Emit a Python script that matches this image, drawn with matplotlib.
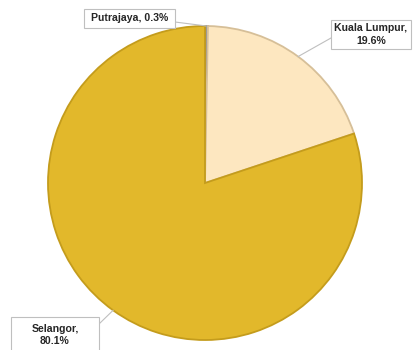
import matplotlib.pyplot as plt
from matplotlib.patches import Rectangle
import numpy as np

# share of population by area
regions = ['Putrajaya', 'Kuala Lumpur', 'Selangor']
shares = [0.3, 19.6, 80.1]
labels = ['Putrajaya, 0.3%', 'Kuala Lumpur,\n19.6%', 'Selangor,\n80.1%']
colors = ['#9a9a9a', '#fde7c0', '#e2b82b']
edges = ['#7a7a7a', '#d6bf98', '#c49c1c']

# pie centre and radius in pixels, used to place the callout boxes
CX, CY, R = 205, 183, 157


def px(x, y):
    return (x - CX) / R, (CY - y) / R


# callout boxes (left, top, right, bottom) and leader start, in pixels
boxes = [(84, 9, 175, 28), (331, 20, 411, 49), (11, 317, 99, 358)]
anchors = [(175, 22), (331, 38), (99, 324)]

fig = plt.figure(figsize=(4.14, 3.5), dpi=100)
ax = fig.add_axes([0, 0, 1, 1])

wedges, _ = ax.pie(shares, colors=colors, startangle=90, counterclock=False,
                   radius=1.0, wedgeprops=dict(linewidth=1.3))
for w, ec in zip(wedges, edges):
    w.set_edgecolor(ec)

for w, txt, box, anc in zip(wedges, labels, boxes, anchors):
    ang = np.deg2rad((w.theta1 + w.theta2) / 2)
    x0, y0 = px(box[0], box[3])
    x1, y1 = px(box[2], box[1])
    ax.add_patch(Rectangle((x0, y0), x1 - x0, y1 - y0, facecolor='white',
                           edgecolor='#bfbfbf', lw=0.8, zorder=3))
    tx, ty = px((box[0] + box[2]) / 2, (box[1] + box[3]) / 2)
    if box[3] > 350:
        ty = px(0, 335)[1]
    ax.text(tx, ty, txt, ha='center', va='center', fontsize=7.6,
            fontweight='bold', family='Liberation Sans', color='#262626',
            multialignment='center', linespacing=1.35, zorder=4)
    ax.plot([px(*anc)[0], np.cos(ang)], [px(*anc)[1], np.sin(ang)],
            color='#bfbfbf', lw=0.8, zorder=2)

ax.set_xlim(-CX / R, (414 - CX) / R)
ax.set_ylim(-(350 - CY) / R, CY / R)
ax.set_aspect('equal')
ax.axis('off')

fig.savefig('out.png', dpi=100)
